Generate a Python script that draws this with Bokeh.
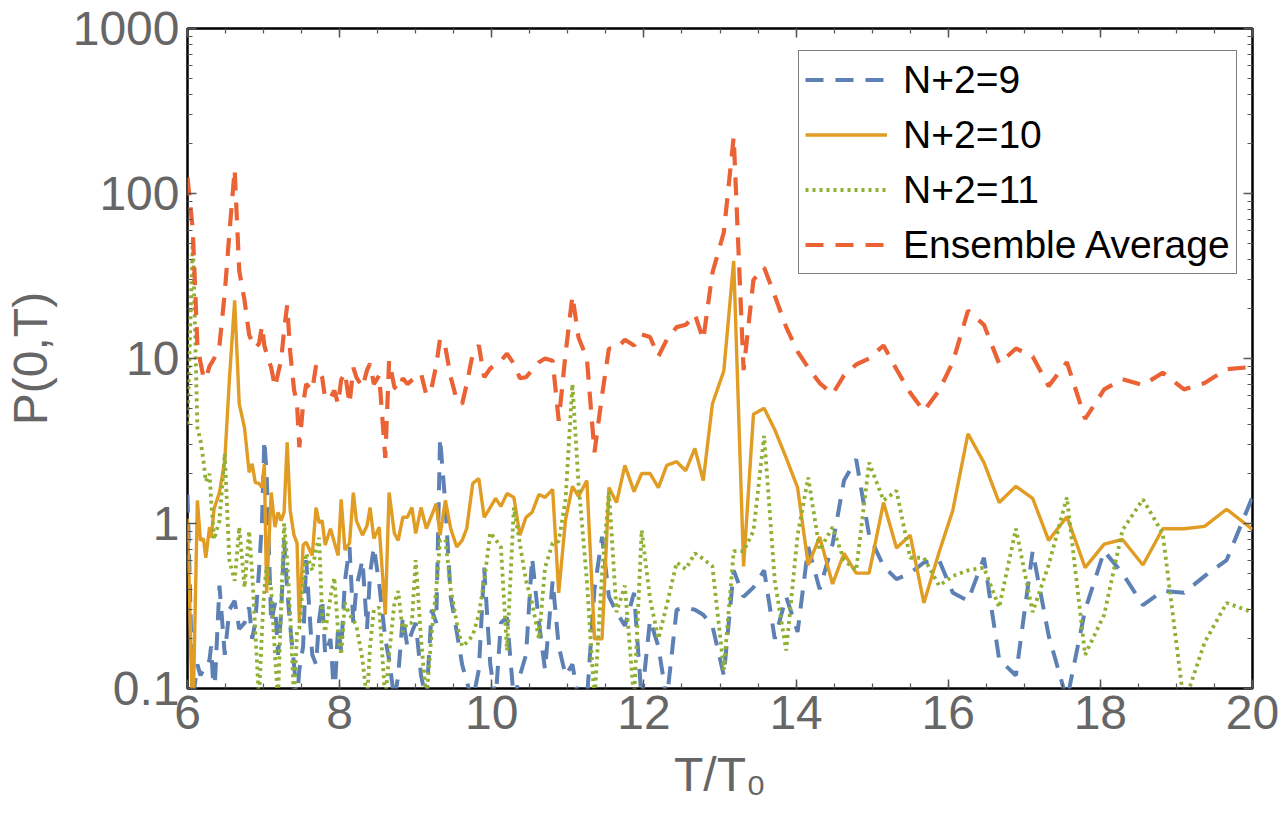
from bokeh.plotting import figure
from bokeh.models import (Range1d, FixedTicker, SingleIntervalTicker, LinearAxis, LogAxis,
                          Legend, LegendItem, CustomJSTickFormatter)
from bokeh.embed import file_html
from bokeh.resources import INLINE

# ---------------- data ----------------
t_over_t0 = [
    6.00, 6.07, 6.13, 6.17, 6.21, 6.24, 6.29, 6.31, 6.35, 6.42,
    6.49, 6.55, 6.62, 6.68, 6.75, 6.81, 6.85, 6.89, 6.94, 6.98,
    7.01, 7.04, 7.10, 7.15, 7.19, 7.23, 7.27, 7.31, 7.35, 7.40,
    7.44, 7.47, 7.52, 7.56, 7.64, 7.69, 7.73, 7.77, 7.81, 7.88,
    7.93, 7.98, 8.02, 8.07, 8.13, 8.18, 8.22, 8.30, 8.36, 8.40,
    8.45, 8.52, 8.60, 8.65, 8.72, 8.77, 8.83, 8.89, 8.95, 9.00,
    9.07, 9.14, 9.21, 9.27, 9.32, 9.39, 9.46, 9.54, 9.61, 9.67,
    9.75, 9.83, 9.90, 9.98, 10.05, 10.12, 10.20, 10.29, 10.37, 10.45,
    10.53, 10.62, 10.70, 10.80, 10.88, 10.97, 11.06, 11.14, 11.25, 11.35,
    11.45, 11.54, 11.64, 11.75, 11.87, 11.97, 12.08, 12.19, 12.30, 12.43,
    12.55, 12.67, 12.78, 12.90, 13.05, 13.18, 13.31, 13.44, 13.58, 13.72,
    13.87, 14.02, 14.16, 14.31, 14.48, 14.63, 14.79, 14.96, 15.15, 15.32,
    15.50, 15.68, 15.88, 16.06, 16.26, 16.47, 16.67, 16.89, 17.11, 17.32,
    17.56, 17.80, 18.05, 18.29, 18.56, 18.82, 19.10, 19.37, 19.66, 20.00,
]

p_n9 = [
    1.5, 0.085, 0.14, 0.12, 0.13, 0.13, 0.15, 0.18, 0.085, 0.42,
    0.16, 0.30, 0.34, 0.23, 0.25, 0.31, 0.20, 0.25, 0.52, 1.04,
    3.2, 2.0, 0.25, 0.33, 0.16, 0.28, 0.79, 0.40, 0.24, 0.14,
    0.085, 0.13, 0.18, 0.60, 0.16, 0.14, 0.26, 0.35, 0.16, 0.20,
    0.085, 0.24, 0.17, 0.45, 0.72, 0.25, 0.41, 0.60, 0.23, 0.50,
    0.72, 0.43, 0.20, 0.15, 0.085, 0.12, 0.27, 0.18, 0.22, 0.25,
    0.12, 0.085, 0.30, 0.25, 3.3, 1.3, 0.36, 0.22, 0.14, 0.11,
    0.085, 0.13, 0.54, 0.14, 0.085, 0.25, 0.27, 0.085, 0.12, 0.16,
    0.62, 0.25, 0.13, 0.45, 0.18, 0.12, 0.14, 0.085, 0.085, 0.40,
    0.83, 0.36, 0.29, 0.24, 0.38, 0.085, 0.26, 0.18, 0.085, 0.30,
    0.31, 0.30, 0.28, 0.24, 0.12, 0.52, 0.36, 0.41, 0.52, 0.20,
    0.36, 0.22, 0.72, 0.40, 0.75, 1.82, 2.45, 0.85, 0.55, 0.46,
    0.50, 0.58, 0.60, 0.38, 0.34, 0.62, 0.15, 0.12, 0.68, 0.21,
    0.085, 0.30, 0.68, 0.50, 0.32, 0.39, 0.38, 0.48, 0.60, 1.45,
]

p_n10 = [
    1.07, 0.06, 1.38, 0.79, 0.81, 0.62, 0.95, 0.82, 1.23, 1.54,
    2.4, 7.4, 22.5, 5.3, 3.8, 2.04, 2.3, 1.77, 1.75, 1.65,
    2.3, 0.38, 1.54, 0.95, 1.17, 1.04, 1.17, 3.1, 1.2, 0.85,
    0.76, 0.25, 0.74, 0.77, 0.64, 1.25, 1.01, 1.04, 0.74, 0.93,
    0.77, 0.64, 1.40, 0.69, 0.76, 1.54, 1.04, 0.85, 0.97, 1.25,
    0.81, 0.95, 0.28, 1.54, 0.87, 0.79, 1.09, 1.09, 1.25, 0.87,
    1.25, 0.93, 1.12, 1.32, 0.85, 1.38, 0.93, 0.72, 0.79, 0.93,
    1.75, 1.87, 1.09, 1.25, 1.42, 1.27, 1.52, 1.44, 0.85, 1.09,
    1.17, 1.50, 1.44, 1.61, 0.38, 1.06, 1.68, 1.46, 1.82, 0.20,
    0.20, 1.65, 1.34, 2.25, 1.56, 2.01, 2.01, 1.65, 2.25, 2.37,
    2.09, 2.85, 1.82, 5.3, 8.4, 39.0, 0.55, 4.6, 5.0, 3.7,
    2.5, 1.65, 0.56, 0.83, 0.43, 0.66, 0.50, 0.50, 1.34, 0.71,
    0.85, 0.33, 0.67, 1.20, 3.5, 2.34, 1.34, 1.68, 1.42, 0.79,
    1.10, 0.54, 0.75, 0.80, 0.56, 0.93, 0.93, 0.96, 1.22, 0.92,
]

p_n11 = [
    4.0, 55.0, 3.8, 3.2, 2.4, 1.8, 2.0, 1.4, 0.80, 1.04,
    2.65, 0.60, 0.45, 0.95, 0.41, 0.90, 0.50, 0.23, 0.085, 0.23,
    0.40, 0.55, 0.40, 0.16, 0.085, 0.31, 1.0, 0.60, 0.28, 0.085,
    0.22, 0.23, 0.45, 0.66, 0.52, 0.70, 0.82, 0.28, 0.22, 0.36,
    0.47, 0.22, 0.16, 0.33, 0.28, 0.26, 0.24, 0.15, 0.085, 0.18,
    0.30, 0.31, 0.085, 0.16, 0.33, 0.39, 0.22, 0.25, 0.25, 0.60,
    0.20, 0.085, 0.22, 0.40, 0.79, 0.80, 0.40, 0.25, 0.18, 0.19,
    0.21, 0.28, 0.45, 0.88, 0.80, 0.72, 0.17, 1.25, 0.75, 0.45,
    0.33, 0.20, 0.54, 0.76, 0.78, 1.4, 7.0, 1.75, 0.45, 0.085,
    0.50, 1.56, 0.29, 0.42, 0.085, 0.91, 0.35, 0.20, 0.32, 0.58,
    0.53, 0.66, 0.61, 0.55, 0.13, 0.68, 0.68, 0.90, 3.4, 0.45,
    0.17, 0.85, 1.9, 0.69, 0.95, 0.60, 0.52, 2.34, 1.38, 1.58,
    0.62, 0.62, 0.42, 0.48, 0.52, 0.54, 0.31, 0.93, 0.29, 0.56,
    1.44, 0.16, 0.28, 0.91, 1.40, 0.87, 0.08, 0.19, 0.33, 0.29,
]

p_ensemble = [
    125.0, 60.0, 12.0, 9.5, 7.7, 7.5, 9.0, 9.3, 10.0, 12.0,
    25.0, 57.0, 140.0, 34.0, 22.5, 14.0, 12.5, 11.6, 12.3, 15.8,
    12.0, 10.7, 8.8, 6.7, 8.1, 9.7, 14.8, 21.0, 11.0, 6.5,
    5.3, 2.9, 5.3, 7.0, 6.4, 9.1, 8.3, 7.7, 5.7, 5.8,
    6.4, 5.3, 7.4, 8.2, 5.3, 8.8, 7.7, 6.7, 8.5, 9.3,
    7.0, 7.9, 2.5, 9.7, 6.7, 6.4, 7.6, 7.0, 7.4, 7.7,
    8.1, 6.0, 6.7, 9.1, 13.2, 11.7, 7.7, 5.6, 5.3, 7.0,
    10.7, 12.0, 7.7, 8.7, 9.2, 9.7, 10.7, 9.3, 7.6, 7.7,
    8.5, 9.5, 10.0, 9.7, 4.2, 10.7, 24.0, 13.4, 10.0, 2.7,
    6.0, 11.5, 11.5, 13.0, 12.0, 14.0, 13.5, 10.3, 13.0, 15.5,
    16.0, 18.5, 13.0, 33.0, 58.0, 220.0, 8.5, 30.0, 35.6, 24.0,
    15.5, 11.0, 8.8, 7.1, 6.1, 7.9, 9.2, 10.0, 12.0, 8.6,
    6.2, 4.8, 6.4, 9.5, 19.5, 16.0, 9.3, 11.5, 10.3, 6.8,
    9.5, 4.3, 6.5, 7.5, 6.9, 8.2, 6.5, 7.1, 8.6, 8.9,
]

series_labels = ["N+2=9", "N+2=10", "N+2=11", "Ensemble Average"]
y_major_ticks = [0.1, 1, 10, 100, 1000]

# ---------------- styling ----------------
BLUE = "#5E81B5"
ORANGE = "#E19C24"
GREEN = "#8FB032"
RED = "#EB6235"
GRAY = "#666666"
FONT = "Liberation Sans"

p = figure(width=1281, height=819, y_axis_type="log",
           x_range=Range1d(6, 20), y_range=Range1d(0.1, 1000),
           output_backend="svg", toolbar_location=None,
           min_border_left=184, min_border_right=29,
           min_border_top=28, min_border_bottom=131)
p.background_fill_color = "white"
p.border_fill_color = "white"
p.xgrid.grid_line_color = None
p.ygrid.grid_line_color = None
p.outline_line_color = "black"
p.outline_line_width = 2.5

y_minor = [m * d for d in y_major_ticks[:-1] for m in range(2, 10)]
yfmt = CustomJSTickFormatter(code="return tick < 1 ? tick.toFixed(1) : tick.toFixed(0);")
blank_fmt = CustomJSTickFormatter(code="return '';")


def style_axis(ax, show_labels):
    ax.axis_line_color = None
    ax.major_tick_in = 9
    ax.major_tick_out = 0
    ax.minor_tick_in = 5
    ax.minor_tick_out = 0
    ax.major_tick_line_color = "#555555"
    ax.minor_tick_line_color = "#555555"
    ax.major_tick_line_width = 1.5
    ax.minor_tick_line_width = 1.2
    if show_labels:
        ax.major_label_text_font = FONT
        ax.major_label_text_font_size = "48px"
        ax.major_label_text_color = GRAY
        ax.axis_label_text_font = FONT
        ax.axis_label_text_font_size = "48px"
        ax.axis_label_text_color = GRAY
        ax.axis_label_text_font_style = "normal"
    else:
        ax.formatter = blank_fmt
        ax.major_label_standoff = 0
        ax.major_label_text_font_size = "2px"


xa = p.xaxis[0]
xa.ticker = SingleIntervalTicker(interval=2, num_minor_ticks=4)
xa.axis_label = "T/T\u2080"
xa.major_label_standoff = 7
xa.axis_label_standoff = 16
style_axis(xa, True)

ya = p.yaxis[0]
ya.ticker = FixedTicker(ticks=y_major_ticks, minor_ticks=y_minor)
ya.formatter = yfmt
ya.axis_label = "P(0,T)"
ya.major_label_standoff = 8
ya.axis_label_standoff = 13
style_axis(ya, True)

top_ax = LinearAxis(ticker=SingleIntervalTicker(interval=2, num_minor_ticks=4))
style_axis(top_ax, False)
p.add_layout(top_ax, "above")
right_ax = LogAxis(ticker=FixedTicker(ticks=y_major_ticks, minor_ticks=y_minor))
style_axis(right_ax, False)
p.add_layout(right_ax, "right")

r9 = p.line(t_over_t0, p_n9, line_color=BLUE, line_width=4, line_dash="18 12")
r10 = p.line(t_over_t0, p_n10, line_color=ORANGE, line_width=3.4)
r11 = p.line(t_over_t0, p_n11, line_color=GREEN, line_width=3.8, line_dash="3 4")
rens = p.line(t_over_t0, p_ensemble, line_color=RED, line_width=4.2, line_dash="18 12")

legend = Legend(items=[LegendItem(label=series_labels[0], renderers=[r9]),
                       LegendItem(label=series_labels[1], renderers=[r10]),
                       LegendItem(label=series_labels[2], renderers=[r11]),
                       LegendItem(label=series_labels[3], renderers=[rens])],
                location=(611, 414))
legend.label_text_font = FONT
legend.label_text_font_size = "39px"
legend.label_text_color = "black"
legend.glyph_width = 82
legend.glyph_height = 45
legend.label_height = 45
legend.label_standoff = 16
legend.spacing = 10
legend.padding = 6
legend.margin = 0
legend.border_line_color = "black"
legend.border_line_width = 1.5
legend.background_fill_color = "white"
legend.background_fill_alpha = 1.0
p.add_layout(legend)

open("out.html", "w").write(file_html(p, INLINE))
